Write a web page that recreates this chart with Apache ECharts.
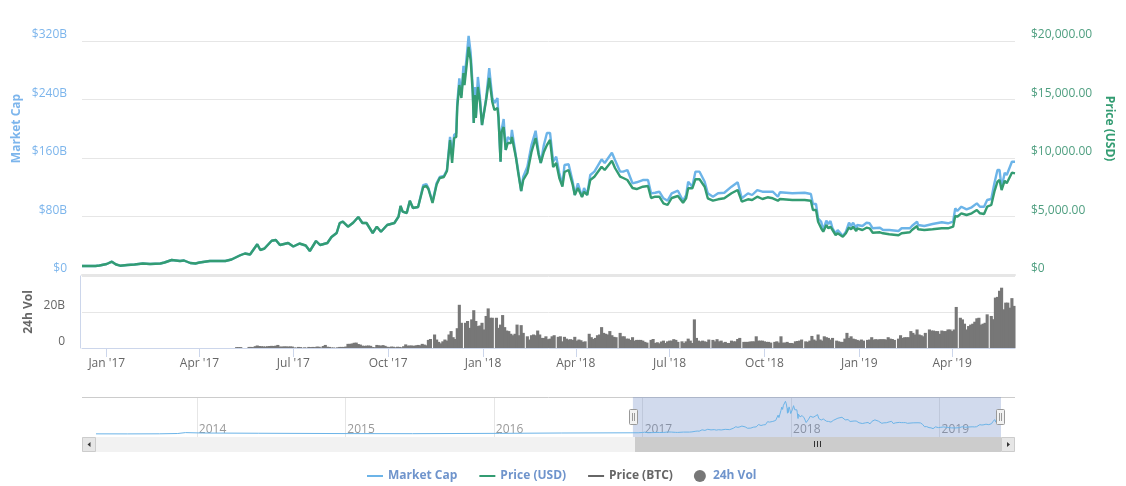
<!DOCTYPE html>
<html><head><meta charset="utf-8">
<style>html,body{margin:0;padding:0;background:#fff}#c{width:1126px;height:486px}</style>
<script src="https://cdn.jsdelivr.net/npm/echarts@6/dist/echarts.min.js"></script>
</head><body><div id="c"></div>
<script>
// Day offsets counted from 2016-12-08
const startDate = '2016-12-08';
const capDays = [0,13,17,24,29,33,37,44,51,59,66,76,80,87,95,99,105,110,114,124,139,145,153,158,163,170,173,177,184,188,192,200,205,211,217,221,227,231,238,242,247,250,253,258,263,268,272,276,282,286,290,296,303,307,309,311,315,318,321,326,331,334,336,340,344,347,351,354,357,359,361,363,364,366,368,370,371,375,377,379,380,381,382,384,386,388,392,395,398,400,403,404,406,407,409,411,413,416,417,421,423,426,428,432,436,440,443,445,448,451,454,457,460,463,466,468,472,476,478,481,485,487,490,493,497,504,507,514,517,522,525,529,534,538,544,549,552,556,560,564,568,572,578,583,586,588,592,595,599,604,607,612,617,623,630,636,640,646,650,655,660,665,670,675,677,689,701,707,709,712,714,717,719,722,724,726,728,731,733,738,741,744,746,748,751,752,757,761,764,767,774,777,783,792,795,803,805,810,811,817,825,834,840,845,847,849,853,858,863,868,871,875,878,882,885,888,890,892,895,897,902,905];
const marketCap = [12.3,12.3,13,15,18.2,14.4,12.7,13.7,14.4,15.7,15,15.7,17.1,20.5,19.1,19.8,16.4,15.7,17.1,19.1,19.1,21.2,26.7,29.4,28,42,34.2,36.2,46.9,47.9,41,43.8,39,43,40.3,32.8,46.5,41,43.8,52,57.4,71.1,72.9,66.1,71.5,79.3,71.1,71.1,57.4,66.1,59.2,68.4,71.1,79.7,94.4,86.6,84.8,101.6,91.6,93,123,124.4,119,100.2,125.8,134,135.4,143.6,189,164,191.5,194,235,269,246,286,266.7,327,303.6,257,207.9,257,214.7,270.8,243.4,205,242,283,242,235,242,216,155,198.3,213.3,171,188.7,184.6,198.3,161.4,143.6,114.9,134.4,148.1,177.8,197.3,166.8,153.2,177.8,194.2,194.2,155,161.8,139.5,123,150.4,151.4,127.6,109.4,125.4,107,119,109.4,136.8,141.3,158.2,153.2,167.2,157.3,141.3,141.3,143.6,125.4,126.8,129.9,129.9,111.7,112.5,113.9,104.9,101.6,111.7,115.3,101.6,109.4,127.6,120.8,141.3,141.3,127.6,111.7,107,111.7,112.5,120.8,126.8,104.9,111.7,109.4,116.2,113.9,113.9,113.9,107,113.1,111.7,112.5,110.8,97.1,97.1,77.5,72.9,61.5,74.3,69.7,73.8,63.9,57,61.5,53.3,59.2,71.5,67,71.5,63.9,68.4,67,71.5,70.7,63.9,64.7,61.5,61.5,60.2,63.9,63.9,67,72.9,68.4,67,69.7,72.1,70.7,72.9,91.2,87.5,93.4,89.8,92.6,98,93.4,93.4,102.6,103.9,125.4,143.6,143.6,119,139.9,136.8,154.9,154.9];
const priceUsd = [769,769,812,940,1137,897,795,855,897,983,940,983,1068,1282,1197,1239,1026,983,1068,1197,1197,1325,1667,1838,1752,2624,2137,2265,2932,2991,2564,2735,2436,2692,2521,2051,2906,2564,2735,3248,3590,4444,4556,4128,4470,4957,4444,4444,3590,4128,3701,4274,4444,4983,5897,5410,5299,6350,5726,5812,7521,7607,7350,6154,7735,8290,8376,8889,11538,9573,11709,11795,14359,16239,15128,17265,16239,19487,18376,15556,12991,15385,13419,16068,14786,12821,14957,16838,14786,14103,14274,13419,9684,12222,12650,10684,11282,11282,11795,10000,8803,7179,8120,8718,10513,11709,10256,9573,10513,11111,11538,9231,9573,8290,7547,8803,8974,7692,6838,7436,6667,7120,6838,8120,8402,9256,8974,9769,9145,8402,8291,8120,7436,7350,7547,7607,6581,6692,6692,6128,5983,6581,6752,6179,6556,7410,7410,8179,8179,7547,6556,6350,6470,6556,6983,7265,6265,6470,6410,6692,6496,6641,6556,6350,6496,6410,6410,6350,5556,5556,4556,3991,3701,4274,3991,4128,3846,3419,3564,3274,3564,4077,3906,4128,3761,3991,3846,4043,3991,3615,3650,3564,3479,3393,3564,3650,3846,4188,3906,3846,3906,3991,3991,4128,5043,4983,5273,5128,5273,5556,5273,5214,5838,5983,7120,7974,8120,7265,8060,7838,8744,8692];
// 24h volume in $B, one reading every second day from day 150
const volStartDay = 150;
const volume = [
.5,.5,.5,0,0,0,.6,.6,.5,1,1.4,1.1,1,.9,.8,1,1.1,1.2,1.1,1.3,
1.7,.8,.8,.9,.9,.8,.9,.8,.3,.2,.6,.5,.1,.4,.1,.6,.5,.6,.5,.8,
.7,.3,1.1,1.7,.7,.6,.3,.3,.1,.4,.6,.6,.6,.8,2.3,2.3,2.5,2.9,3,2.2,
1.9,1.3,1.2,1.3,1.4,1.2,.5,.4,1.7,1.5,1.3,1.6,1.2,.7,.5,.8,.7,.4,.7,.6,
.4,1,2,1.3,1.4,1.4,1.2,1.5,1.7,1.5,2.3,1.9,1.5,4.5,5,null,
7.5,4.7,3.4,2.6,3.7,4.7,4.1,7.5,9.4,6,5,11,24,14,null,
14,15,11.2,15.9,21,15,12.2,12.5,14,10.3,17.8,22,16.8,16.8,null,
16.8,11.2,13,18.3,11.6,9.7,9.4,7.9,7.1,7.9,13,7.1,12.7,8.4,null,
6.5,4.7,7.1,7.5,7.1,9.7,7.5,5.6,5.6,6.5,4.9,5.2,6.5,7.1,null,
6.2,6.5,3.7,6.2,5.2,4.7,4.9,4.5,6.2,4.1,4.7,4.3,3.4,3.7,null,
7.9,6,5,5.6,7.1,7.5,11.6,8.4,7.9,7.5,9.4,7.1,6.2,6,null,
8.4,6.5,6.5,5.2,5.2,4.5,6,4.1,4.5,4.5,4.5,4.1,3.4,3,null,
4.5,5,2.8,3.2,2.6,3.6,4.1,2.8,3.7,4.1,4.1,4.9,4.5,3.4,null,
3.7,2.8,3.7,5.2,4.1,2.8,15.9,5.6,4.1,3.7,4.1,3.7,3.4,4.7,null,
4.5,3.7,4.9,3.7,4.1,3,3.4,2.8,2.8,4.1,3.7,3.7,5,5.6,null,
3.4,3.4,3.4,3.6,3.7,3.7,6.5,4.1,4.1,4.1,3.7,3.4,3.4,3,null,
3.4,3.7,3,6.5,3,3,3.4,2.8,2.8,2.6,3.7,3.9,4.1,4.7,null,
3.7,3.4,4.1,6.7,4.7,4.1,7.5,4.7,4.1,6.5,6,5.6,4.7,5.6,null,
4.1,3.7,3.4,3.4,5.2,8.4,5.6,6.5,5.2,4.9,4.5,4.1,4.7,4.1,null,
4.5,4.7,6,4.7,4.9,4.7,4.9,4.9,4.9,4.7,6,5.2,5,4.5,null,
5.2,7.1,5.6,6,6,6,9.4,8.4,7.5,10.3,7.5,7.1,6.5,8.4,null,
10.3,9.7,9.7,9.4,9.4,7.9,9.7,9.4,9.4,10.3,10.3,9.4,10.3,22.8,null,
16.8,15.9,13.5,10.3,12.2,13,13.5,14.6,16.5,16.8,13,13.5,14,18.7,null,
17.8,16,28,28.4,31.8,33.5,21.5,25.2,25.2,22.4,27.7,23.4
];
// Navigator history before the main window
const historyDates = ['2013-04-28','2013-07-15','2013-10-01','2013-11-15','2013-12-04','2014-01-15','2014-06-01','2015-01-15','2015-06-15','2016-01-15','2016-06-15','2016-12-01'];
const historyCap = [1.5,1,2,5,14,10,7.5,4,3.3,6.5,10,12];
const monthTicks = ['2017-01-01','2017-04-01','2017-07-01','2017-10-01','2018-01-01','2018-04-01','2018-07-01','2018-10-01','2019-01-01','2019-04-01'];
const yearTicks = ['2014-01-01','2015-01-01','2016-01-01','2017-01-01','2018-01-01','2019-01-01'];
const capTicksMax = 320, priceTicksMax = 20000;

const FONT = '"Open Sans", sans-serif';
const BLUE = '#6cb4e8', GREEN = '#339c72', GREY = '#777777';
const t = s => { const p = s.split('-'); return Date.UTC(+p[0], +p[1]-1, +p[2]); };
const DAY = 864e5;
const dayToMs = d => t(startDate) + d * DAY;
const capSeries = capDays.map((d,i) => [dayToMs(d), marketCap[i]]);
const priceSeries = capDays.map((d,i) => [dayToMs(d), priceUsd[i]]);
const volSeries = volume.map((v,i) => [dayToMs(volStartDay + 2*i), v]);
const navSeries = historyDates.map((d,i) => [t(d), historyCap[i]]).concat(capSeries);
const MON = ['Jan','Feb','Mar','Apr','May','Jun','Jul','Aug','Sep','Oct','Nov','Dec'];
const monthTickMs = monthTicks.map(t), yearTickMs = yearTicks.map(t);
const xMin = t(startDate), xMax = t('2019-06-01');
const tick = c => ({a:{color:c,fontFamily:FONT,fontSize:12,lineHeight:12}});

const option = {
  animation:false, backgroundColor:'#fff', textStyle:{fontFamily:FONT},
  legend:{ left:366, top:470, itemWidth:16, itemHeight:12, itemGap:21, padding:0,
    textStyle:{fontFamily:FONT,fontSize:12,fontWeight:'bold'}, selectedMode:false,
    data:[
      {name:'Market Cap',itemStyle:{opacity:0},textStyle:{color:'#6f94cc'}},
      {name:'Price (USD)',itemStyle:{opacity:0},textStyle:{color:'#6f94cc'}},
      {name:'Price (BTC)',itemStyle:{opacity:0},textStyle:{color:'#666666'}},
      {name:'24h Vol',icon:'circle',textStyle:{color:'#6f94cc'}}
    ]},
  grid:[
    {left:82,width:933,top:41,height:234},
    {left:82,width:933,top:276,height:72},
    {left:96,width:905,top:397,height:40}
  ],
  xAxis:[
    {type:'value',gridIndex:0,min:xMin,max:xMax,axisLabel:{show:false},axisTick:{show:false},splitLine:{show:false},
      axisLine:{show:true,lineStyle:{color:'#e6e6e6',width:2}}},
    {type:'value',gridIndex:1,min:xMin,max:xMax,splitLine:{show:false},
      axisLine:{show:true,lineStyle:{color:'#ccd6eb',width:1}},
      axisTick:{show:true,length:9,lineStyle:{color:'#ccd6eb'},customValues:monthTickMs},
      axisLabel:{show:true,color:'#666',fontFamily:FONT,fontSize:12,margin:10,customValues:monthTickMs,hideOverlap:false,
        showMinLabel:true,showMaxLabel:true,
        formatter:v=>{const d=new Date(v);return MON[d.getUTCMonth()]+" '"+String(d.getUTCFullYear()).slice(2);}}},
    {type:'value',gridIndex:2,min:t('2013-04-28'),max:xMax,
      axisLine:{show:false},
      axisTick:{show:false,customValues:yearTickMs},
      splitLine:{show:true,lineStyle:{color:'#e6e6e6'}},
      axisLabel:{show:true,inside:true,margin:1,color:'#999',fontFamily:FONT,fontSize:12,align:'left',verticalAlign:'bottom',padding:[0,0,0,2],
        customValues:yearTickMs,hideOverlap:false,showMinLabel:true,showMaxLabel:true,
        formatter:v=>String(new Date(v).getUTCFullYear())}}
  ],
  yAxis:[
    {type:'value',gridIndex:0,min:0,max:capTicksMax,interval:80,position:'left',
      name:'Market Cap',nameLocation:'middle',nameGap:59,nameRotate:90,nameMoveOverlap:false,
      nameTextStyle:{color:'#7cb5ec',fontFamily:FONT,fontSize:12,fontWeight:'bold',padding:[0,0,0,59]},
      axisLine:{show:false},axisTick:{show:false},
      axisLabel:{color:'#7cb5ec',fontFamily:FONT,fontSize:12,margin:15,verticalAlign:'bottom',rich:tick('#7cb5ec'),
        formatter:v=>'{a|'+(v===0?'$0':'$'+v+'B')+'}'},
      splitLine:{show:true,lineStyle:{color:'#e6e6e6'}}},
    {type:'value',gridIndex:0,min:0,max:priceTicksMax,interval:5000,position:'right',
      name:'Price (USD)',nameLocation:'middle',nameGap:88,nameRotate:-90,nameMoveOverlap:false,
      nameTextStyle:{color:GREEN,fontFamily:FONT,fontSize:12,fontWeight:'bold',padding:[0,59,0,0]},
      axisLine:{show:false},axisTick:{show:false},splitLine:{show:false},
      axisLabel:{color:'#4f9f80',fontFamily:FONT,fontSize:12,margin:16,verticalAlign:'bottom',rich:tick('#4f9f80'),
        formatter:v=>'{a|'+(v===0?'$0':'$'+v.toLocaleString('en-US')+'.00')+'}'}},
    {type:'value',gridIndex:1,min:0,max:40,interval:20,position:'left',offset:2,
      name:'24h Vol',nameLocation:'middle',nameGap:45,nameRotate:90,nameMoveOverlap:false,
      nameTextStyle:{color:'#666',fontFamily:FONT,fontSize:12,fontWeight:'bold'},
      axisLine:{show:true,lineStyle:{color:'#ccd6eb'}},axisTick:{show:false},
      axisLabel:{color:'#666',fontFamily:FONT,fontSize:12,margin:15,verticalAlign:'bottom',showMaxLabel:false,rich:tick('#666'),
        formatter:v=>v===40?'':'{a|'+(v===0?'0':v+'B')+'}'},
      splitLine:{show:true,lineStyle:{color:'#e6e6e6'}}},
    {type:'value',gridIndex:2,min:-30,max:370,show:false,splitLine:{show:false}}
  ],
  series:[
    {name:'Market Cap',type:'line',xAxisIndex:0,yAxisIndex:0,data:capSeries,symbol:'none',clip:false,
      lineStyle:{color:BLUE,width:2.4},itemStyle:{color:BLUE}},
    {name:'Price (USD)',type:'line',xAxisIndex:0,yAxisIndex:1,data:priceSeries,symbol:'none',clip:false,
      lineStyle:{color:GREEN,width:2.4},itemStyle:{color:GREEN}},
    {name:'Price (BTC)',type:'line',xAxisIndex:0,yAxisIndex:0,data:[],symbol:'none',
      lineStyle:{color:'#666',width:2},itemStyle:{color:'#666'}},
    {name:'24h Vol',type:'bar',xAxisIndex:1,yAxisIndex:2,data:volSeries,barWidth:3.1,itemStyle:{color:GREY}},
    {name:'Navigator',type:'line',xAxisIndex:2,yAxisIndex:3,data:navSeries,symbol:'none',
      lineStyle:{color:BLUE,width:1},itemStyle:{color:BLUE},
      markArea:{silent:true,itemStyle:{color:'rgba(102,133,194,0.3)'},
        data:[[{xAxis:xMin,y:397},{xAxis:xMax,y:437}]]}}
  ],
  graphic:[
    {type:'line',silent:true,z:1,shape:{x1:82,y1:397.5,x2:1015,y2:397.5},style:{stroke:'#cccccc',lineWidth:1}},
    {type:'rect',silent:true,z:1,shape:{x:82,y:437,width:933,height:15},style:{fill:'#f2f2f2'}},
    {type:'rect',silent:true,z:2,shape:{x:635,y:437,width:366,height:15},style:{fill:'#cccccc'}},
    {type:'rect',silent:true,z:3,shape:{x:82.5,y:437.5,width:13,height:14},style:{fill:'#e6e6e6',stroke:'#cccccc'}},
    {type:'rect',silent:true,z:3,shape:{x:1001.5,y:437.5,width:13,height:14},style:{fill:'#e6e6e6',stroke:'#cccccc'}},
    {type:'polygon',silent:true,z:4,shape:{points:[[90.5,442],[90.5,447],[87.5,444.5]]},style:{fill:'#333'}},
    {type:'polygon',silent:true,z:4,shape:{points:[[1007,442],[1007,447],[1010,444.5]]},style:{fill:'#333'}},
    {type:'line',silent:true,z:4,shape:{x1:814.5,y1:441,x2:814.5,y2:447},style:{stroke:'#333'}},
    {type:'line',silent:true,z:4,shape:{x1:817.5,y1:441,x2:817.5,y2:447},style:{stroke:'#333'}},
    {type:'line',silent:true,z:4,shape:{x1:820.5,y1:441,x2:820.5,y2:447},style:{stroke:'#333'}},
    {type:'rect',silent:true,z:5,shape:{x:629.5,y:409.5,width:8,height:15,r:1},style:{fill:'#f2f2f2',stroke:'#999'}},
    {type:'line',silent:true,z:5,shape:{x1:632.5,y1:413,x2:632.5,y2:421},style:{stroke:'#999'}},
    {type:'line',silent:true,z:5,shape:{x1:634.5,y1:413,x2:634.5,y2:421},style:{stroke:'#999'}},
    {type:'rect',silent:true,z:5,shape:{x:996.5,y:409.5,width:8,height:15,r:1},style:{fill:'#f2f2f2',stroke:'#999'}},
    {type:'line',silent:true,z:5,shape:{x1:999.5,y1:413,x2:999.5,y2:421},style:{stroke:'#999'}},
    {type:'line',silent:true,z:5,shape:{x1:1001.5,y1:413,x2:1001.5,y2:421},style:{stroke:'#999'}}
  ]
};
echarts.init(document.getElementById('c'),null,{renderer:'canvas'}).setOption(option);
</script></body></html>
